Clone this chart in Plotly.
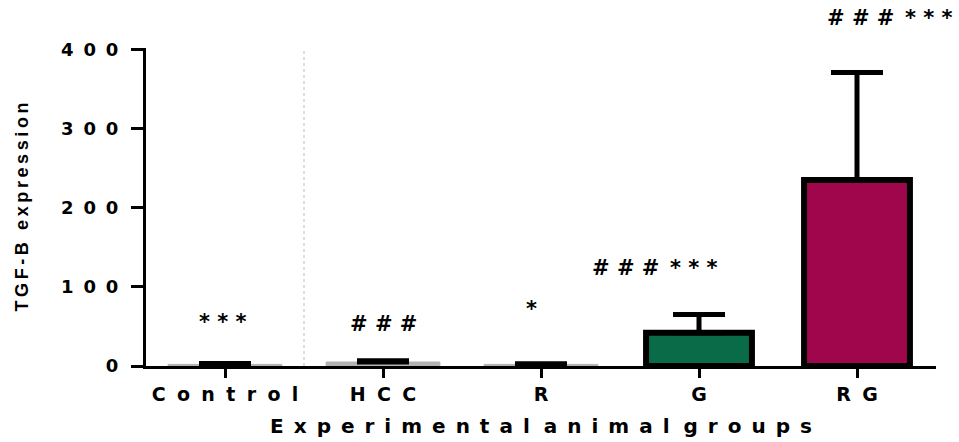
import plotly.graph_objects as go

# ---- data ----
groups = ["Control", "HCC", "R", "G", "RG"]
means = [2, 5, 2, 42, 235]
err_up = [1.2, 1.5, 0.8, 23, 136]
sig_labels = ["***", "###", "*", "###***", "###***"]
sig_y = [56, 53, 72, 124, 440]
sig_xshift = [-2, 0, -10, -45, 32]
y_ticks = [0, 100, 200, 300, 400]
y_title = "TGF-B expression"
x_title = "Experimental animal groups"

fill_colors = ["#b3b3b3", "#b3b3b3", "#b3b3b3", "#096b47", "#a0064c"]
line_colors = ["#b3b3b3", "#b3b3b3", "#b3b3b3", "#000000", "#000000"]
line_widths = [1, 1, 1, 6, 6]
bar_widths = [0.72, 0.72, 0.72, 0.67, 0.67]

Y_MAX = 402


def spaced(s, gap="\u00a0\u2005", word_gap="\u2002\u2009"):
    words = s.split(" ")
    return word_gap.join(gap.join(w) for w in words)


def sig_text(s):
    out = s[0]
    for a, b in zip(s, s[1:]):
        out += ("\u2002" if (a == "#" and b == "*") else "\u00a0") + b
    return out


fig = go.Figure()
fig.add_trace(go.Bar(
    x=list(range(len(groups))),
    y=means,
    width=bar_widths,
    marker=dict(color=fill_colors, line=dict(color=line_colors, width=line_widths)),
    error_y=dict(type="data", symmetric=False, array=err_up,
                 arrayminus=[0] * len(groups), color="black", thickness=5, width=26),
    showlegend=False,
))

# dotted separator between Control and HCC
fig.add_shape(type="line", xref="x", yref="y", x0=0.5, x1=0.5, y0=0, y1=Y_MAX,
              line=dict(color="#bdbdbd", width=1, dash="dot"), layer="below")

for i, (lab, yy, xs) in enumerate(zip(sig_labels, sig_y, sig_xshift)):
    fig.add_annotation(x=i, y=yy / Y_MAX, xref="x", yref="y domain", text=sig_text(lab),
                       showarrow=False, xshift=xs, xanchor="center", yanchor="middle",
                       font=dict(family="DejaVu Sans", size=21, color="black", weight="bold"))

fig.update_layout(
    width=959, height=442,
    margin=dict(l=146, r=23, t=48, b=76),
    plot_bgcolor="white", paper_bgcolor="white",
    xaxis=dict(
        range=[-0.5, 4.5], automargin=False,
        tickmode="array", tickvals=list(range(len(groups))),
        ticktext=[spaced(g) for g in groups],
        ticks="outside", ticklen=9, tickwidth=3, tickcolor="black",
        showline=True, linewidth=3, linecolor="black",
        showgrid=False, zeroline=False,
        tickfont=dict(family="DejaVu Sans", size=19, color="black", weight="bold"),
        title=dict(text=spaced(x_title, gap="\u2002", word_gap="\u2002\u2009"), standoff=16,
                   font=dict(family="DejaVu Sans", size=20, color="black", weight="bold")),
    ),
    yaxis=dict(
        range=[0, Y_MAX], automargin=False,
        tickmode="array", tickvals=y_ticks,
        ticktext=[spaced(str(t), gap="\u00a0\u2009") for t in y_ticks],
        ticks="outside", ticklen=12, tickwidth=3, tickcolor="black",
        ticklabelstandoff=9,
        showline=True, linewidth=3, linecolor="black",
        showgrid=False, zeroline=False,
        tickfont=dict(family="DejaVu Sans", size=18, color="black", weight="bold"),
        title=dict(text="\u2009".join(y_title), standoff=28,
                   font=dict(family="Liberation Sans", size=18, color="black", weight="bold")),
    ),
)

fig.write_html("out.html", config={"displayModeBar": False},
               post_script="document.body.style.margin='0';document.body.style.overflow='hidden';")
